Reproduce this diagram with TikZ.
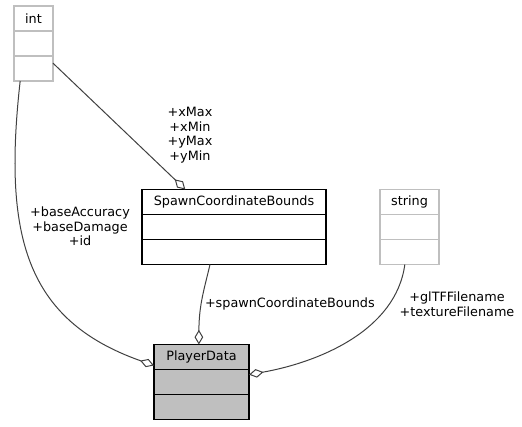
\documentclass[tikz,border=0pt]{standalone}
\usepackage{fontspec}
\setmainfont{DejaVu Sans}
\usepackage{xcolor}
\usepackage{tikz}
\usetikzlibrary{positioning,arrows.meta,calc}
\definecolor{edgegray}{HTML}{404040}
\definecolor{boxgray}{HTML}{BFBFBF}

\begin{document}
\begin{tikzpicture}
		[x=0.75pt,y=-0.75pt,node distance=0pt,
		every node/.style={font=\fontsize{9.6}{10.9}\selectfont,inner sep=0pt,outer sep=0pt},
		classbox/.style={draw=black,fill=white,line width=0.8pt,minimum height=18.75pt},
		extbox/.style={draw=boxgray,fill=white,line width=0.8pt,minimum height=18.75pt},
		mainbox/.style={draw=black,fill=boxgray,line width=0.8pt,minimum height=18.75pt},
		member/.style={align=center},
		uses/.style={draw=edgegray,line width=0.75pt,-{Diamond[open,length=11pt,width=6.5pt]}}]
		\useasboundingbox (0,0) rectangle (522,427);
		% int
		\node[extbox,minimum width=29.25pt] (int) at (33.5,18.5) {int};
		\node[extbox,minimum width=29.25pt,below=of int] (int-a) {};
		\node[extbox,minimum width=29.25pt,below=of int-a] (int-b) {};
		% SpawnCoordinateBounds
		\node[classbox,minimum width=138pt] (scb) at (234,202) {SpawnCoordinateBounds};
		\node[classbox,minimum width=138pt,below=of scb] (scb-a) {};
		\node[classbox,minimum width=138pt,below=of scb-a] (scb-b) {};
		% string
		\node[extbox,minimum width=44.25pt] (str) at (409.5,202) {string};
		\node[extbox,minimum width=44.25pt,below=of str] (str-a) {};
		\node[extbox,minimum width=44.25pt,below=of str-a] (str-b) {};
		% PlayerData
		\node[mainbox,minimum width=71.25pt] (pd) at (201.5,357) {PlayerData};
		\node[mainbox,minimum width=71.25pt,below=of pd] (pd-a) {};
		\node[mainbox,minimum width=71.25pt,below=of pd-a] (pd-b) {};
		% edges
		\draw[uses] ([xshift=-10pt]int-b.south) .. controls (3,235) and (25,320) .. ([yshift=3pt]pd.south west);
		\draw[uses] ([yshift=4pt]int-b.east) -- ([xshift=-36.5pt]scb.north);
		\draw[uses] ([xshift=-18pt]scb-b.south) .. controls (204,290) and (199,305) .. ([xshift=-2pt]pd.north);
		\draw[uses] ([xshift=-3.5pt]str-b.south) .. controls (396,330) and (320,362) .. ([yshift=5.5pt]pd-a.east);
		% labels
		\node[member] (lbl-int) at (80,226.5) {+baseAccuracy\\+baseDamage\\+id};
		\node[member] (lbl-bounds) at (190,135) {+xMax\\+xMin\\+yMax\\+yMin};
		\node[member,anchor=west] (lbl-scb) at (205,304) {+spawnCoordinateBounds};
		\node[member] (lbl-str) at (457,304) {+glTFFilename\\+textureFilename};
\end{tikzpicture}
\end{document}
